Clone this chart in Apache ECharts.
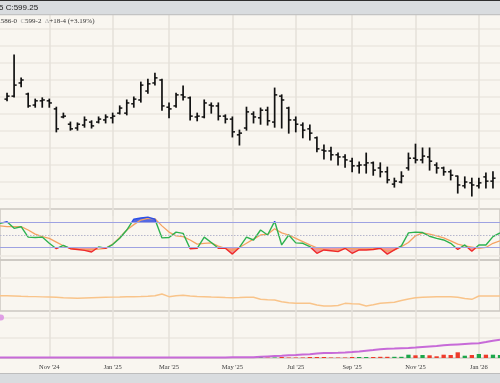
<!DOCTYPE html>
<html><head><meta charset="utf-8">
<script src="https://cdn.jsdelivr.net/npm/echarts@6/dist/echarts.min.js"></script>
<style>html,body{margin:0;padding:0;background:#f9f6f0}#c{width:500px;height:383px}</style>
</head><body><div id="c"></div>
<script>
const weeks = [
'2024-09-16','2024-09-23','2024-09-30','2024-10-07','2024-10-14','2024-10-21','2024-10-28','2024-11-04','2024-11-11','2024-11-18',
'2024-11-25','2024-12-02','2024-12-09','2024-12-16','2024-12-23','2024-12-30','2025-01-06','2025-01-13','2025-01-20','2025-01-27',
'2025-02-03','2025-02-10','2025-02-17','2025-02-24','2025-03-03','2025-03-10','2025-03-17','2025-03-24','2025-03-31','2025-04-07',
'2025-04-14','2025-04-21','2025-04-28','2025-05-05','2025-05-12','2025-05-19','2025-05-26','2025-06-02','2025-06-09','2025-06-16',
'2025-06-23','2025-06-30','2025-07-07','2025-07-14','2025-07-21','2025-07-28','2025-08-04','2025-08-11','2025-08-18','2025-08-25',
'2025-09-01','2025-09-08','2025-09-15','2025-09-22','2025-09-29','2025-10-06','2025-10-13','2025-10-20','2025-10-27','2025-11-03',
'2025-11-10','2025-11-17','2025-11-24','2025-12-01','2025-12-08','2025-12-15','2025-12-22','2025-12-29','2026-01-05','2026-01-12',
'2026-01-19','2026-01-26'];

const tickWeeks  = ['2024-11-04','2025-01-06','2025-03-03','2025-05-05','2025-07-07','2025-09-01','2025-11-03','2026-01-05'];
const tickLabels = ["Nov '24","Jan '25","Mar '25","May '25","Jul '25","Sep '25","Nov '25","Jan '26"];

const openP = [
null,558.75,560.5,568.25,561.75,555.25,557.75,557.75,553.0,548.25,
544.0,541.75,543.5,545.25,545.25,546.5,547.75,550.5,550.5,556.0,
558.25,563.5,568.25,570.0,554.0,554.75,561.25,559.5,548.25,548.25,
555.25,554.75,548.75,547.0,537.75,541.75,550.0,547.75,552.25,545.25,
560.5,553.5,546.5,543.5,541.25,536.0,528.75,528.25,526.0,524.75,
522.25,519.5,520.0,521.25,518.25,516.0,508.75,510.0,518.25,524.0,
523.0,524.75,520.0,518.25,516.0,513.5,507.75,509.5,507.75,513.0,
510.5,null];
const highP = [
null,562.25,584.75,571.25,562.25,558.75,559.5,558.75,554.0,550.5,
545.25,544.75,548.25,546.0,548.25,549.5,550.5,554.75,558.25,560.0,
568.75,570.5,574.0,570.5,556.5,562.25,566.5,560.0,550.5,558.25,
556.5,556.5,549.5,548.25,540.5,554.0,551.25,553.5,554.0,565.25,
561.25,554.0,548.25,544.75,543.5,536.5,531.75,530.5,527.0,526.0,
524.0,521.75,527.0,521.75,521.25,518.75,512.25,516.0,527.0,532.25,
530.0,530.0,521.25,518.75,517.0,513.5,513.0,512.25,512.25,515.25,
516.0,null];
const lowP = [
null,557.75,560.0,566.0,554.0,554.0,554.0,554.0,539.5,547.75,
540.5,540.5,542.25,541.75,544.75,544.75,544.75,550.0,549.5,554.0,
557.0,562.25,567.0,552.25,547.75,554.0,558.25,546.5,546.0,547.75,
550.5,546.5,544.75,536.5,531.75,540.5,544.75,544.0,543.5,542.25,
541.75,538.75,539.5,536.0,534.75,527.75,523.5,523.0,520.0,518.75,
516.0,515.25,515.25,514.0,513.0,509.5,507.0,509.5,517.0,521.25,
521.25,517.0,515.25,514.0,511.25,503.5,506.5,501.75,506.5,506.5,
506.5,null];
const closeP = [
null,560.5,567.0,570.0,554.75,557.75,558.25,556.5,541.25,548.75,
541.25,544.0,546.5,543.0,547.0,548.25,548.75,553.5,556.5,558.75,
567.0,567.75,571.25,554.75,553.0,561.25,560.0,548.75,548.75,556.5,
554.75,548.75,547.0,539.5,538.75,551.25,548.25,552.25,546.0,561.25,
558.25,546.5,544.0,540.5,538.75,529.5,528.25,526.0,524.75,523.0,
519.5,520.0,521.25,517.0,516.0,511.25,510.5,513.5,524.0,523.0,
525.25,522.25,518.25,516.0,514.0,508.25,510.0,508.25,509.5,510.5,
512.25,null];

const stochK = [
78,82,66,70,45,44,45,30,17,25,
17,15,13,9,21,18,27,42,62,88,
91,93,88,43,44,57,54,17,18,45,
32,18,18,4,20,45,38,62,50,83,
26,50,31,30,22,6,14,12,10,18,
6,14,14,15,18,4,14,24,55,57,
56,47,42,38,30,15,26,11,26,26,
46,55];
const stochD = [
72,70,70,70,62,52,46,42,33,24,
18,16,15,15,16,18,28,44,62,75,
86,90,89,72,57,48,46,38,28,30,
31,23,18,13,20,30,40,50,52,65,
55,50,42,34,26,19,15,13,14,17,
17,16,16,17,18,11,14,22,32,48,
55,52,48,43,36,28,24,21,18,20,
30,36];

const rangeAvg = [
15.3,15.3,15.0,14.7,14.5,14.4,14.1,14.0,13.7,13.3,
13.0,12.7,13.0,13.3,13.5,13.7,13.9,14.0,14.2,14.3,
14.5,14.8,15.3,17.0,14.3,15.2,15.7,15.0,14.5,14.3,
14.0,13.8,13.5,13.3,13.5,13.8,13.7,11.8,11.3,11.0,
9.3,8.3,7.8,7.7,7.7,6.0,5.0,5.0,5.5,7.7,
7.3,7.0,5.0,6.3,7.7,8.2,8.7,10.5,12.0,13.2,
13.7,14.0,14.3,14.3,14.3,13.8,12.5,11.7,15.0,15.0,
15.0,15.0];

const openInterest = [
0.4,0.4,0.4,0.4,0.4,0.4,0.4,0.4,0.4,0.4,
0.4,0.4,0.4,0.4,0.4,0.4,0.4,0.4,0.4,0.4,
0.4,0.4,0.4,0.4,0.4,0.4,0.4,0.4,0.4,0.4,
0.4,0.4,0.5,0.7,0.7,0.7,0.8,1.2,1.6,2.0,
2.3,2.7,3.0,3.4,3.8,4.4,4.9,5.1,5.3,5.6,
6.0,6.5,7.2,7.9,8.8,9.2,9.4,9.7,10.0,10.4,
11.0,11.6,12.1,12.7,13.2,13.6,14.0,14.4,14.8,16.0,
17.3,18.3];
const openInterestStart = [40.5];

const volume = [
0.8,0.8,0.8,0.8,0.8,0.8,0.8,0.8,0.8,0.8,
0.8,0.8,0.8,0.8,0.8,0.8,0.8,0.8,0.8,0.8,
0.8,0.8,0.8,0.8,0.8,0.8,0.8,0.8,0.8,0.8,
0.8,0.8,0.8,0.8,0.8,0.8,0.6,1.0,0.5,0.5,
1.0,0.5,0.5,0.5,1.0,1.0,1.0,0.5,0.5,0.5,
1.0,1.0,1.0,1.0,1.2,1.2,1.2,1.2,3.3,2.7,
3.0,2.7,1.7,3.3,3.0,5.7,2.3,3.0,4.0,3.3,
3.3,3.0];

const chart = echarts.init(document.getElementById('c'), null, {renderer:'canvas'});
const isTick = (idx) => tickWeeks.indexOf(weeks[idx]) >= 0;
const vGrid = {show:true, interval:(i)=>isTick(i), lineStyle:{color:'#e4e0da', width:1.5}};
const GL = -5.16, GR = -3.5;

function xAx(gi, showLabel){
  return {type:'category', gridIndex:gi, data:weeks, boundaryGap:false,
    axisLine:{show:showLabel, lineStyle:{color:'#d6d2cb', width:1.5}},
    offset: showLabel ? 2 : 0,
    axisTick:{show:false},
    axisLabel:{show:showLabel, interval:(i)=>isTick(i), margin:4,
      formatter:(v)=>tickLabels[tickWeeks.indexOf(v)] || '',
      fontFamily:'Liberation Serif', fontSize:6.5, color:'#3a3a3a'},
    splitLine:vGrid};
}

const ohlcData = weeks.map((w,i)=>[i, openP[i], highP[i], lowP[i], closeP[i]]);

chart.setOption({
  animation:false,
  backgroundColor:'#f9f6f0',
  grid:[
    {left:GL, right:GR, top:12, height:204, show:false},
    {left:GL, right:GR, top:209, height:51, show:true, borderColor:'#ccc8c1', borderWidth:1.5, backgroundColor:'transparent'},
    {left:GL, right:GR, top:260, height:51, show:true, borderColor:'#ccc8c1', borderWidth:1.5, backgroundColor:'transparent'},
    {left:GL, right:GR, top:311, height:47, show:false}
  ],
  xAxis:[xAx(0,false), xAx(1,false), xAx(2,false), xAx(3,true)],
  yAxis:[
    {type:'value', gridIndex:0, min:490, max:610, interval:10, axisLabel:{show:false}, axisLine:{show:false}, axisTick:{show:false},
      splitLine:{show:true, showMinLine:false, showMaxLine:false, lineStyle:{color:'#ebe7e0', width:1.5}}},
    {type:'value', gridIndex:1, min:-10.24, max:112.65, axisLabel:{show:false}, axisLine:{show:false}, axisTick:{show:false}, splitLine:{show:false}},
    {type:'value', gridIndex:2, min:0, max:51, interval:33, axisLabel:{show:false}, axisLine:{show:false}, axisTick:{show:false},
      splitLine:{show:true, showMinLine:false, showMaxLine:false, lineStyle:{color:'#ebe7e0', width:1.5}}},
    {type:'value', gridIndex:3, min:0, max:47, interval:20, axisLabel:{show:false}, axisLine:{show:false}, axisTick:{show:false},
      splitLine:{show:true, showMaxLine:false, lineStyle:{color:'#ebe7e0', width:1.5}}}
  ],
  visualMap:[
    {type:'piecewise', show:false, seriesIndex:1, dimension:1,
      pieces:[{lt:20, color:'rgba(240,90,95,0.6)'},{gte:20, lte:80, color:'rgba(0,0,0,0)'},{gt:80, color:'rgba(55,80,225,0.85)'}]},
    {type:'piecewise', show:false, seriesIndex:2, dimension:1,
      pieces:[{lt:20, color:'#ef2a2a'},{gte:20, lte:80, color:'#2db24f'},{gt:80, color:'#2b4fe6'}]}
  ],
  series:[
    {type:'custom', xAxisIndex:0, yAxisIndex:0, data:ohlcData, encode:{x:0, y:[1,2,3,4]}, z:5,
      renderItem:(params, api)=>{
        const i = api.value(0), o = api.value(1), h = api.value(2), l = api.value(3), c = api.value(4);
        if (isNaN(o) || isNaN(h)) return null;
        const po = api.coord([i,o]), ph = api.coord([i,h]), pl = api.coord([i,l]), pc = api.coord([i,c]);
        const tw = 2.6, st = {stroke:'#111', lineWidth:1.7};
        return {type:'group', children:[
          {type:'line', shape:{x1:ph[0], y1:ph[1]-0.5, x2:pl[0], y2:pl[1]+0.5}, style:st},
          {type:'line', shape:{x1:po[0]-tw, y1:po[1], x2:po[0], y2:po[1]}, style:{stroke:'#111', lineWidth:1.5}},
          {type:'line', shape:{x1:pc[0], y1:pc[1], x2:pc[0]+tw, y2:pc[1]}, style:{stroke:'#111', lineWidth:1.5}}
        ]};
      }},
    {type:'line', xAxisIndex:1, yAxisIndex:1, data:stochK, symbol:'none', lineStyle:{opacity:0, width:0},
      areaStyle:{origin:50, opacity:1}, z:2, silent:true},
    {type:'line', xAxisIndex:1, yAxisIndex:1, data:stochK, symbol:'none', lineStyle:{width:1.4}, z:4},
    {type:'line', xAxisIndex:1, yAxisIndex:1, data:stochD, symbol:'none', lineStyle:{width:1.3, color:'#f4a262'}, itemStyle:{color:'#f4a262'}, z:3,
      markLine:{silent:true, symbol:'none', label:{show:false}, animation:false,
        data:[
          {yAxis:0, lineStyle:{color:'#ebe7e0', width:1.5, type:'solid'}},
          {yAxis:20, lineStyle:{color:'#9ea2e2', width:1, type:'solid'}},
          {yAxis:80, lineStyle:{color:'#9ea2e2', width:1, type:'solid'}},
          {yAxis:50, lineStyle:{color:'#b5b5cc', width:1.2, type:[1.5,1.5]}}
        ]}},
    {type:'line', xAxisIndex:2, yAxisIndex:2, data:rangeAvg, symbol:'none', lineStyle:{width:1.4, color:'#f9c48a'}, z:3},
    {type:'bar', xAxisIndex:3, yAxisIndex:3, data:volume, barWidth:4.3, z:2,
      itemStyle:{color:(p)=> (closeP[p.dataIndex] != null && closeP[p.dataIndex] < openP[p.dataIndex]) ? '#ee3b2b' : '#1da64a'}},
    {type:'line', xAxisIndex:3, yAxisIndex:3, data:openInterest, symbol:'none', lineStyle:{width:2, color:'#c76ad8'}, z:3},
    {type:'scatter', xAxisIndex:3, yAxisIndex:3, data:openInterestStart.map(v=>[weeks[0], v]), symbolSize:6, symbolOffset:[1,0],
      itemStyle:{color:'#d98ae4'}, z:3, silent:true}
  ],
  graphic:[
    {type:'rect', shape:{x:0, y:0, width:500, height:15}, style:{fill:'#d9dcdf'}, z:100},
    {type:'rect', shape:{x:0, y:0, width:500, height:1}, style:{fill:'#2e2e2e'}, z:101},
    {type:'rect', shape:{x:0, y:14, width:500, height:1.2}, style:{fill:'#c3c3c3'}, z:101},
    {type:'text', x:-1, y:8, z:102, style:{text:'5 C:599.25', fill:'#222', fontSize:8, fontFamily:'Liberation Sans', verticalAlign:'middle'}},
    {type:'text', x:-1, y:21, z:102, style:{
      text:'{d|.586-0} {g|C}{d|599-2} {g|\u0394}{d|+18-4 (+3.19%)}', verticalAlign:'middle',
      rich:{d:{fill:'#333', fontSize:7, fontFamily:'Liberation Serif'}, g:{fill:'#aaa', fontSize:7, fontFamily:'Liberation Serif'}}}},
    {type:'rect', shape:{x:0, y:373, width:500, height:10}, style:{fill:'#d9dcdf'}, z:100},
    {type:'rect', shape:{x:0, y:373, width:500, height:1}, style:{fill:'#bdbdbd'}, z:101}
  ]
});
</script>
</body></html>
